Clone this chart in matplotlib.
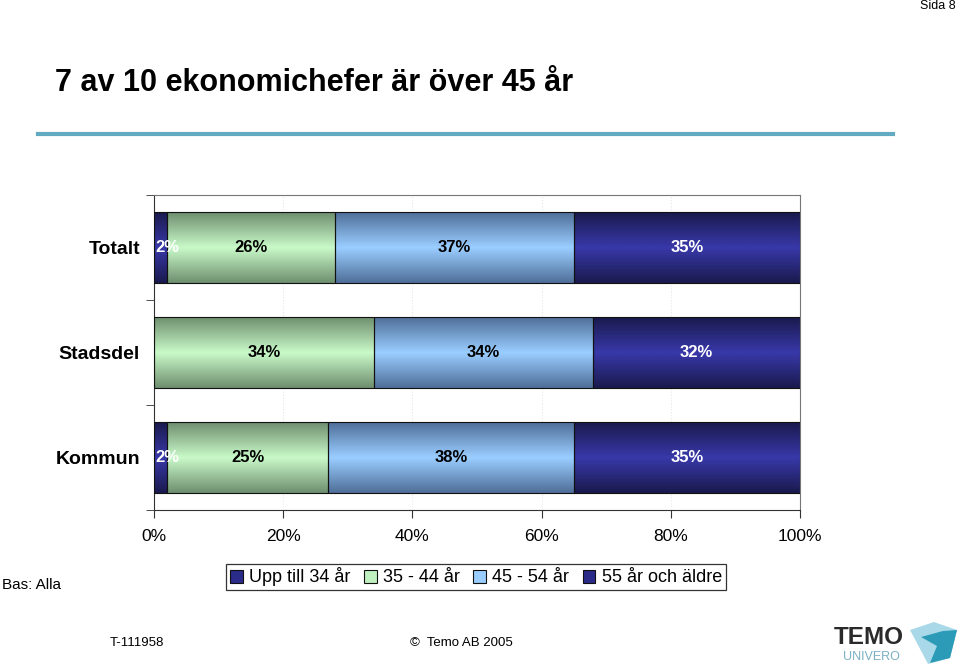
import numpy as np
import matplotlib
matplotlib.use("Agg")
import matplotlib.pyplot as plt
from matplotlib.colors import LinearSegmentedColormap
from matplotlib.patches import Patch, Polygon
from matplotlib.lines import Line2D

plt.rcParams['font.family'] = ['Liberation Sans', 'DejaVu Sans']

# data
categories = ["Totalt", "Stadsdel", "Kommun"]
series = ["Upp till 34 år", "35 - 44 år", "45 - 54 år", "55 år och äldre"]
values = [
    [2, 0, 2],     # Upp till 34 år
    [26, 34, 25],  # 35 - 44 år
    [37, 34, 38],  # 45 - 54 år
    [35, 32, 35],  # 55 år och äldre
]
xticks = [0, 20, 40, 60, 80, 100]

# gradient colours: edge, middle
grads = [
    ("#1a1a4e", "#3838a8"),
    ("#6f8f6f", "#c8f8c8"),
    ("#4f6f99", "#9acdff"),
    ("#1a1a4e", "#3838a8"),
]
flat = ["#2b2b8a", "#c0f0c0", "#99ccff", "#2b2b8a"]
txtcol = ["white", "black", "black", "white"]

fig = plt.figure(figsize=(9.6, 6.66), dpi=100)
W, H = 960, 666

def fx(x): return x / W
def fy(y): return 1 - y / H

ax = fig.add_axes([fx(154), fy(510), 646 / W, 315 / H])

y = np.arange(len(categories))
left = np.zeros(len(categories))
grad = np.concatenate([np.linspace(0, 1, 40), np.linspace(1, 0, 40)]).reshape(-1, 1)
for i, s in enumerate(series):
    vals = np.array(values[i], dtype=float)
    bars = ax.barh(y, vals, left=left, height=0.667, color="none",
                   edgecolor="#111111", linewidth=0.8, zorder=3)
    cm = LinearSegmentedColormap.from_list("g%d" % i, list(grads[i]))
    for b, v in zip(bars, vals):
        if v <= 0:
            b.set_visible(False)
            continue
        x0, y0, w, h = b.get_x(), b.get_y(), b.get_width(), b.get_height()
        im = ax.imshow(grad, extent=[x0, x0 + w, y0 + h, y0], aspect="auto",
                       cmap=cm, zorder=2, interpolation="bilinear")
        im.set_clip_path(b)
        xc = x0 + w / 2 + (1.0 if w < 5 else 0)
        ax.text(xc, y0 + h / 2, "%d%%" % v, ha="center", va="center",
                color=txtcol[i], fontsize=12, fontweight="bold", zorder=4)
    left += vals

ax.set_xlim(0, 100)
ax.set_ylim(2.5, -0.5)
ax.set_xticks(xticks)
ax.set_xticklabels(["%d%%" % t for t in xticks], fontsize=12.5)
ax.set_yticks(y)
ax.set_yticklabels(categories, fontsize=14, fontweight="bold")
ax.set_yticks([-0.5, 0.5, 1.5, 2.5], minor=True)
ax.tick_params(axis="y", which="major", length=0, pad=10)
ax.tick_params(axis="y", which="minor", length=6, color="#333333")
ax.tick_params(axis="x", length=6, pad=8, color="#333333")
ax.grid(axis="x", color="#e6e6e6", linestyle=":", linewidth=0.8, zorder=0)
ax.set_axisbelow(True)
for s in ["left", "bottom"]:
    ax.spines[s].set_color("#333333")
for s in ["top", "right"]:
    ax.spines[s].set_color("#777777")

# legend
handles = [Patch(facecolor=c, edgecolor="#111111", linewidth=0.8) for c in flat]
leg = fig.legend(handles, series, loc="center", bbox_to_anchor=(fx(476), fy(577)),
                 ncol=4, frameon=True, fancybox=False,
                 handlelength=0.7, handleheight=0.7, handletextpad=0.35,
                 columnspacing=0.75, borderpad=0.2, borderaxespad=0,
                 prop={"size": 13})
leg.get_frame().set_edgecolor("black")
leg.get_frame().set_linewidth(0.9)

# page text
fig.text(fx(55), fy(83), "7 av 10 ekonomichefer är över 45 år", fontsize=22,
         fontweight="bold", va="center", ha="left")
fig.add_artist(Line2D([fx(38), fx(893)], [fy(134), fy(134)], color="#62a9c2", linewidth=3))
fig.text(fx(956), fy(6), "Sida 8", fontsize=9, ha="right", va="center")
fig.text(fx(2), fy(585), "Bas: Alla", fontsize=11, ha="left", va="center")
fig.text(fx(110), fy(643), "T-111958", fontsize=9.5, ha="left", va="center")
fig.text(fx(410), fy(643), "©  Temo AB 2005", fontsize=9.5, ha="left", va="center")

# logo
fig.text(fx(834), fy(637), "TEMO", fontsize=17.5, fontweight="bold", color="#2a2a2a",
         ha="left", va="center")
fig.text(fx(843), fy(657), "UNIVERO", fontsize=9, color="#7ab0c4", ha="left", va="center")
light = [(910, 630), (934, 622), (957, 630), (950, 658), (928, 664), (918, 645)]
dark = [(921, 637), (943, 631), (957, 630), (950, 658), (930, 663), (937, 646)]
fig.add_artist(Polygon([(fx(a), fy(b)) for a, b in light], closed=True,
                       facecolor="#a9d9e8", edgecolor="none", transform=fig.transFigure))
fig.add_artist(Polygon([(fx(a), fy(b)) for a, b in dark], closed=True,
                       facecolor="#2b9bb8", edgecolor="none", transform=fig.transFigure))

fig.savefig("out.png", dpi=100)
